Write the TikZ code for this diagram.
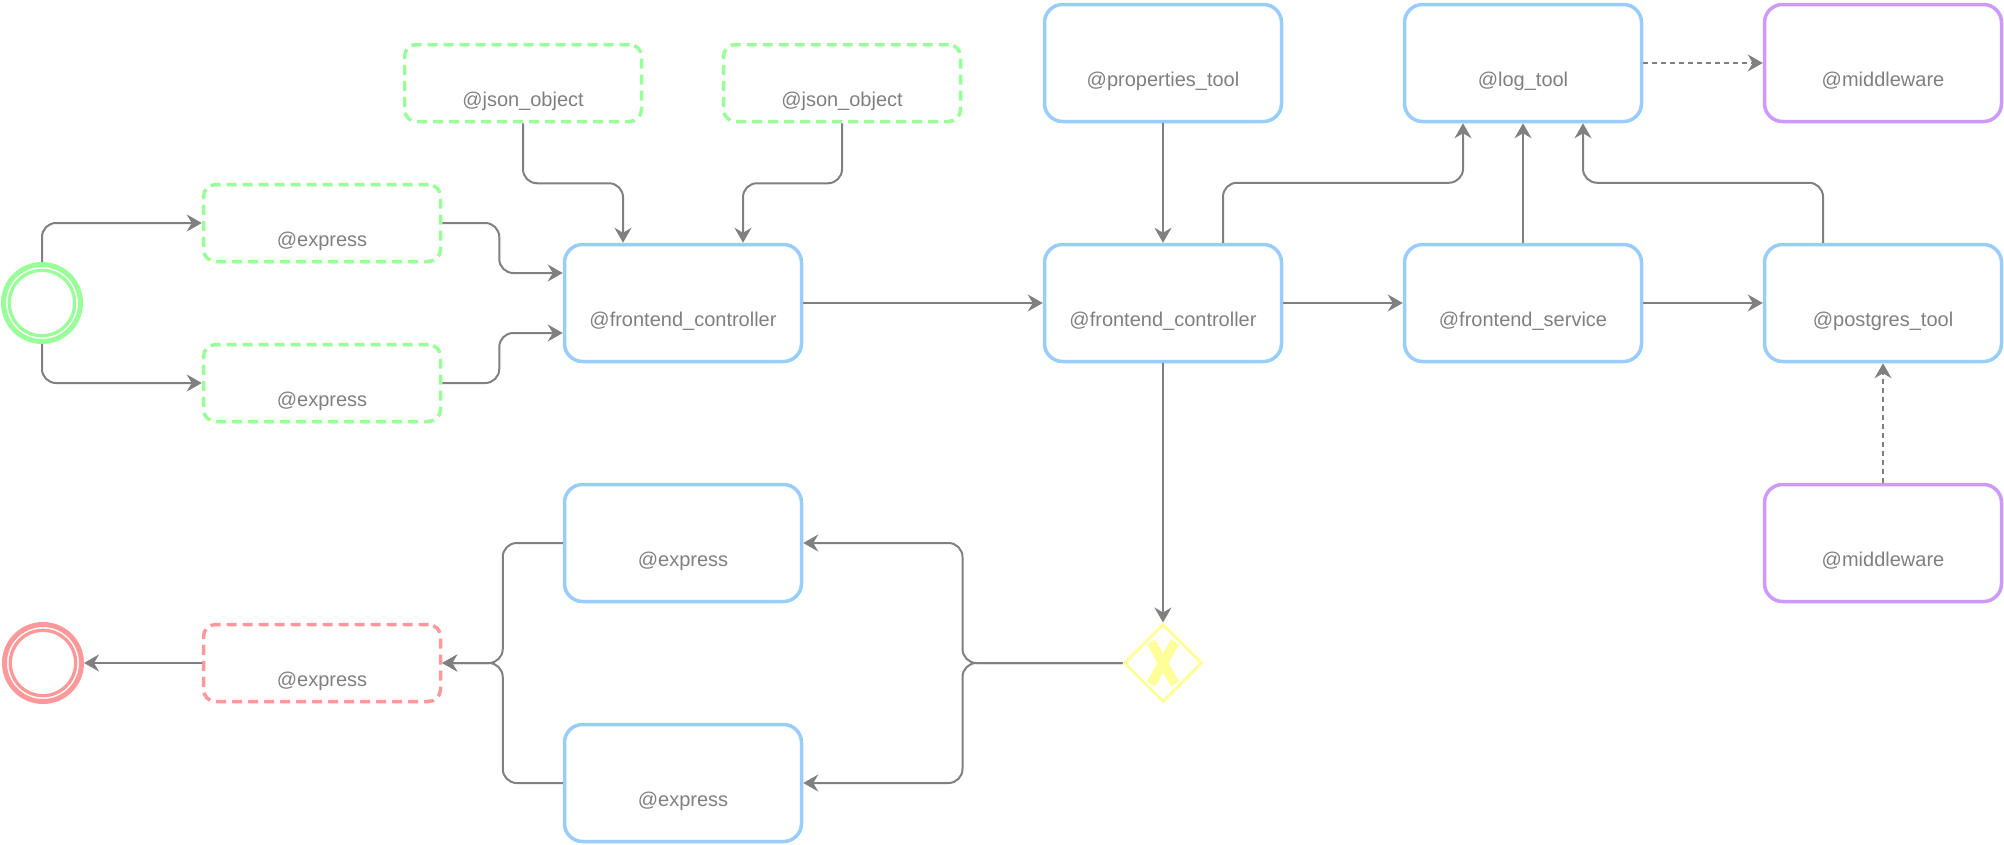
\documentclass[tikz,border=0pt]{standalone}
\usepackage{fontspec}
\newfontfamily\lbfont{Liberation Sans}
\usetikzlibrary{arrows.meta,shapes.geometric}
\definecolor{cblue}{HTML}{99CCFF}
\definecolor{cgreen}{HTML}{99FF99}
\definecolor{cred}{HTML}{FF9999}
\definecolor{cpurple}{HTML}{CC99FF}
\definecolor{cyellow}{HTML}{FFFF99}
\definecolor{cline}{HTML}{808080}
\definecolor{ctext}{HTML}{808080}
\newcommand\boxtext[1]{\raisebox{-23pt}[0pt][0pt]{#1}}
\begin{document}
\begin{tikzpicture}[x=1pt,y=-1pt,
  base/.style={rectangle, inner sep=0pt, font=\lbfont\fontsize{20}{24}\selectfont, text=ctext, fill=white},
  bigbox/.style={base, draw=#1, line width=3.5pt, rounded corners=18pt, minimum width=237pt, minimum height=117pt},
  smallbox/.style={base, draw=#1, line width=3.5pt, dash pattern=on 10pt off 6pt, rounded corners=12pt, minimum width=237pt, minimum height=77pt},
  event/.style={circle, draw=#1, line width=5pt, minimum size=77pt, inner sep=0pt, fill=white},
  conn/.style={draw=cline, line width=2pt, rounded corners=14pt, -{Stealth[length=15pt,width=17pt,inset=5pt]}},
  dconn/.style={draw=cline, line width=1.7pt, dash pattern=on 5pt off 4pt, -{Stealth[length=15pt,width=17pt,inset=5pt]}}
]
\useasboundingbox (0,0) rectangle (2004,844);

% nodes
\node[event=cgreen] (start) at (42,303) {};
\draw[cgreen, line width=3.3pt] (start.center) circle[radius=32.7pt];
\node[smallbox=cgreen] (ex1) at (322,223) {\boxtext{@express}};
\node[smallbox=cgreen] (ex2) at (322,383) {\boxtext{@express}};
\node[smallbox=cgreen] (json1) at (523,83) {\boxtext{@json\_object}};
\node[smallbox=cgreen] (json2) at (842,83) {\boxtext{@json\_object}};
\node[bigbox=cblue] (fc1) at (683,303) {\boxtext{@frontend\_controller}};
\node[bigbox=cblue] (fc2) at (1163,303) {\boxtext{@frontend\_controller}};
\node[bigbox=cblue] (fs) at (1523,303) {\boxtext{@frontend\_service}};
\node[bigbox=cblue] (pg) at (1883,303) {\boxtext{@postgres\_tool}};
\node[bigbox=cblue] (prop) at (1163,63) {\boxtext{@properties\_tool}};
\node[bigbox=cblue] (log) at (1523,63) {\boxtext{@log\_tool}};
\node[bigbox=cpurple] (mw1) at (1883,63) {\boxtext{@middleware}};
\node[bigbox=cpurple] (mw2) at (1883,543) {\boxtext{@middleware}};
\node[bigbox=cblue] (exb1) at (683,543) {\boxtext{@express}};
\node[bigbox=cblue] (exb2) at (683,783) {\boxtext{@express}};
\node[smallbox=cred] (exr) at (322,663) {\boxtext{@express}};
\node[event=cred] (end) at (43,663) {};
\draw[cred, line width=3.3pt] (end.center) circle[radius=32.7pt];
\node[diamond, aspect=1, draw=cyellow, line width=3pt, minimum width=78pt, minimum height=78pt, inner sep=0pt, fill=white] (gw) at (1163,663) {};
\draw[cyellow, line width=9.5pt] ([shift={(-12,-21)}]gw.center) -- ([shift={(12,21)}]gw.center);
\draw[cyellow, line width=9.5pt] ([shift={(12,-21)}]gw.center) -- ([shift={(-12,21)}]gw.center);

% connectors
\draw[conn] (start.north) |- (ex1.west);
\draw[conn] (start.south) |- (ex2.west);
\draw[conn] (ex1.east) -- ++(57,0) |- ([yshift=30pt]fc1.west);
\draw[conn] (ex2.east) -- ++(57,0) |- ([yshift=-30pt]fc1.west);
\draw[conn] (json1.south) -- ++(0,60) -| ([xshift=-60pt]fc1.north);
\draw[conn] (json2.south) -- ++(0,60) -| ([xshift=60pt]fc1.north);
\draw[conn] (fc1.east) -- (fc2.west);
\draw[conn] (prop.south) -- (fc2.north);
\draw[conn] ([xshift=60pt]fc2.north) -- ++(0,-60) -| ([xshift=-60pt]log.south);
\draw[conn] (fs.north) -- (log.south);
\draw[conn] ([xshift=-60pt]pg.north) -- ++(0,-60) -| ([xshift=60pt]log.south);
\draw[conn] (fc2.east) -- (fs.west);
\draw[conn] (fs.east) -- (pg.west);
\draw[dconn] (log.east) -- (mw1.west);
\draw[dconn] (mw2.north) -- (pg.south);
\draw[conn] (fc2.south) -- (gw.north);
\draw[conn] (gw.west) -- ++(-160,0) |- (exb1.east);
\draw[conn] (gw.west) -- ++(-160,0) |- (exb2.east);
\draw[conn] (exb1.west) -- ++(-60,0) |- (exr.east);
\draw[conn] (exb2.west) -- ++(-60,0) |- (exr.east);
\draw[conn] (exr.west) -- (end.east);
\end{tikzpicture}
\end{document}
